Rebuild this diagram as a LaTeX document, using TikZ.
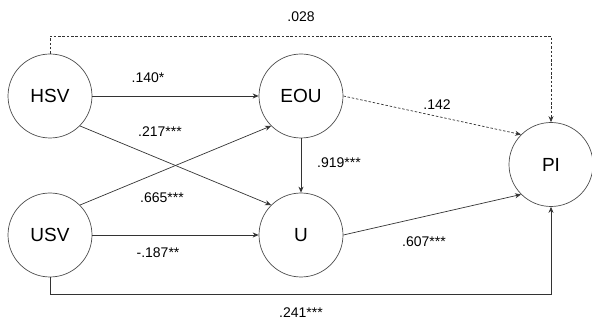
\documentclass[tikz,border=0pt]{standalone}
\usepackage{fontspec}
\setmainfont{Liberation Sans}
\usetikzlibrary{arrows.meta}
\begin{document}
\begin{tikzpicture}[x=1pt,y=-1pt,
  var/.style={circle,draw=black!70,line width=0.7pt,minimum size=84pt,inner sep=0pt,font=\fontsize{19}{19}\selectfont},
  lbl/.style={font=\fontsize{14}{14}\selectfont,inner sep=0pt},
  conn/.style={draw=black!80,line width=0.7pt,-{Stealth[length=6pt,width=5pt]}},
  dsh/.style={conn,dash pattern=on 2.5pt off 1.8pt}]
\useasboundingbox (0,0) rectangle (592,323);
\node[var] (HSV) at (50,96) {HSV};
\node[var] (EOU) at (301,96) {EOU};
\node[var] (USV) at (50,235) {USV};
\node[var] (U) at (301,235) {U};
\node[var] (PI) at (551,164.5) {PI};
\coordinate (t1) at (50,36);
\coordinate (t2) at (551,36);
\coordinate (b1) at (50,294);
\coordinate (b2) at (551,294);
\draw[dsh] (HSV.north) -- (t1) -- (t2) -- (PI.north);
\draw[conn] (USV.south) -- (b1) -- (b2) -- (PI.south);
\draw[conn] (HSV.east) -- (EOU.west);
\draw[conn] (USV.east) -- (U.west);
\draw[conn] (HSV.south east) -- (U.north west);
\draw[conn] (USV.north east) -- (EOU.south west);
\draw[conn] (EOU.south) -- (U.north);
\draw[dsh] (EOU.east) -- (PI.north west);
\draw[conn] (U.east) -- (PI.south west);
\node[lbl] (l028) at (301,17) {.028};
\node[lbl] (l140) at (148,78) {.140*};
\node[lbl] (l217) at (160,132) {.217***};
\node[lbl] (l665) at (162,198) {.665***};
\node[lbl] (l187) at (158,253) {-.187**};
\node[lbl] (l142) at (437,105) {.142};
\node[lbl] (l919) at (339,163) {.919***};
\node[lbl] (l607) at (424,242) {.607***};
\node[lbl] (l241) at (301,313) {.241***};
\end{tikzpicture}
\end{document}
